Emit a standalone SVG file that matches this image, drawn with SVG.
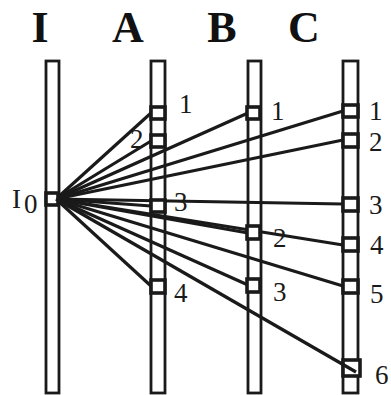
<svg xmlns="http://www.w3.org/2000/svg" width="391" height="395" viewBox="0 0 391 395">
<style>
.bar{fill:#fff;stroke:#1a1a1a;stroke-width:2.8}
.nd{fill:#fff;stroke:#1a1a1a;stroke-width:3.6}
.hd{font-family:"Liberation Serif","Times New Roman",serif;font-weight:bold;font-size:44px;fill:#111;text-anchor:middle}
.lb{font-family:"Liberation Serif","Times New Roman",serif;font-size:27px;fill:#1a1a1a}
.cn line{stroke:#1a1a1a;stroke-width:3.2}
</style>
<rect width="391" height="395" fill="#fff"/>
<g id="headers">
<text class="hd" x="40" y="42">I</text>
<text class="hd" x="128" y="42">A</text>
<text class="hd" x="222" y="42">B</text>
<text class="hd" x="304" y="42">C</text>
</g>
<g id="bars">
<rect class="bar" x="46" y="61" width="13" height="332"/>
<rect class="bar" x="151" y="61" width="14" height="332"/>
<rect class="bar" x="248" y="61" width="13" height="332"/>
<rect class="bar" x="343" y="61" width="15" height="332"/>
</g>
<g class="cn" id="connectors">
<line x1="56" y1="199" x2="151" y2="113"/>
<line x1="56" y1="199" x2="151" y2="141"/>
<line x1="56" y1="199" x2="151" y2="206"/>
<line x1="56" y1="199" x2="151" y2="286"/>
<line x1="56" y1="199" x2="248" y2="113"/>
<line x1="56" y1="199" x2="248" y2="233"/>
<line x1="56" y1="199" x2="248" y2="285"/>
<line x1="56" y1="199" x2="343" y2="111"/>
<line x1="56" y1="199" x2="343" y2="140"/>
<line x1="56" y1="199" x2="343" y2="204"/>
<line x1="56" y1="199" x2="343" y2="245"/>
<line x1="56" y1="199" x2="343" y2="286"/>
</g>
<g id="I0"><rect class="nd" x="46" y="193" width="12" height="12"/><text class="lb" x="12" y="208">I</text><text class="lb" x="24" y="213">0</text></g>
<g id="A1"><rect class="nd" x="151" y="107" width="14" height="12"/><text class="lb" x="179" y="113">1</text></g>
<g id="A2"><rect class="nd" x="151" y="135" width="14" height="12"/><text class="lb" x="130" y="148">2</text></g>
<g id="A3"><rect class="nd" x="151" y="200" width="14" height="12"/><text class="lb" x="174" y="211">3</text></g>
<g id="A4"><rect class="nd" x="151" y="280" width="14" height="13"/><text class="lb" x="174" y="302">4</text></g>
<g id="B1"><rect class="nd" x="247" y="107" width="13" height="12"/><text class="lb" x="271" y="120">1</text></g>
<g id="B2"><rect class="nd" x="247" y="226" width="13" height="13"/><text class="lb" x="273" y="247">2</text></g>
<g id="B3"><rect class="nd" x="247" y="279" width="13" height="13"/><text class="lb" x="273" y="301">3</text></g>
<g id="C1"><rect class="nd" x="343" y="105" width="15" height="12"/><text class="lb" x="369" y="120">1</text></g>
<g id="C2"><rect class="nd" x="343" y="134" width="15" height="13"/><text class="lb" x="369" y="151">2</text></g>
<g id="C3"><rect class="nd" x="343" y="198" width="15" height="13"/><text class="lb" x="369" y="214">3</text></g>
<g id="C4"><rect class="nd" x="343" y="238" width="15" height="13"/><text class="lb" x="370" y="254">4</text></g>
<g id="C5"><rect class="nd" x="343" y="280" width="15" height="13"/><text class="lb" x="370" y="303">5</text></g>
<g id="C6"><rect class="nd" x="343" y="360" width="17" height="16"/><line x1="56" y1="199" x2="356" y2="372" stroke="#1a1a1a" stroke-width="3.2"/><text class="lb" x="375" y="384">6</text></g>
</svg>
